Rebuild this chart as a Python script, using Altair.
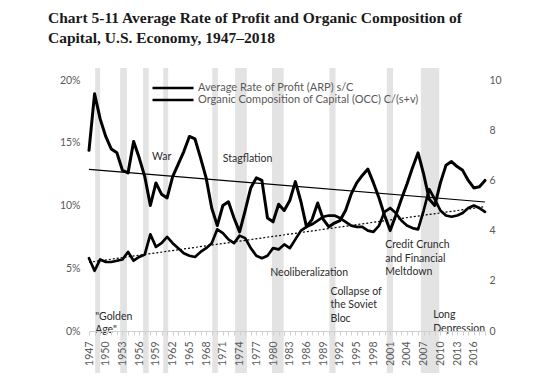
import altair as alt
import pandas as pd

years = list(range(1947, 2019))

arp = [14.4, 18.9, 16.9, 15.5, 14.5, 14.2, 12.8, 12.6, 15.1, 13.8,
       12.3, 10.0, 11.8, 10.9, 10.6, 12.3, 13.3, 14.3, 15.5, 15.3,
       13.8, 12.2, 9.8, 8.4, 10.0, 10.3, 9.0, 7.9, 9.6, 11.4,
       12.2, 12.0, 9.0, 8.7, 10.1, 9.6, 10.4, 11.9, 10.3, 8.3,
       8.9, 10.2, 8.9, 8.3, 8.6, 8.8, 9.6, 10.9, 11.8, 12.4,
       12.9, 11.8, 10.6, 9.2, 8.0, 9.2, 10.5, 11.7, 13.0, 14.2,
       12.5, 10.5, 10.0, 11.8, 13.2, 13.5, 13.1, 12.8, 12.0, 11.4,
       11.5, 12.0]

occ = [2.9, 2.4, 2.85, 2.75, 2.75, 2.8, 2.85, 3.15, 2.8, 2.95,
       3.05, 3.85, 3.35, 3.5, 3.75, 3.5, 3.3, 3.1, 3.0, 2.95,
       3.15, 3.3, 3.5, 4.05, 3.9, 3.65, 3.5, 3.8, 3.7, 3.3,
       3.0, 2.9, 3.0, 3.3, 3.25, 3.45, 3.3, 3.65, 4.0, 4.15,
       4.25, 4.4, 4.55, 4.6, 4.6, 4.5, 4.35, 4.2, 4.15, 4.15,
       4.0, 3.95, 4.2, 4.75, 4.9, 4.7, 4.4, 4.2, 4.1, 4.05,
       4.8, 5.65, 5.25, 4.8, 4.6, 4.55, 4.6, 4.7, 4.9, 5.0,
       4.9, 4.75]

band_start = [1948.1, 1952.6, 1956.7, 1960.3, 1969.1, 1973.2, 1979.8, 1990.1, 2000.4, 2006.5]
band_end = [1949.0, 1953.8, 1957.7, 1961.2, 1970.1, 1975.3, 1981.9, 1991.2, 2001.5, 2009.8]

note_text = ["War", "Stagflation", "Neoliberalization", "Collapse of\nthe Soviet\nBloc",
             "Credit Crunch\nand Financial\nMeltdown", "Long\nDepression", "\"Golden\nAge\""]
note_year = [1958.3, 1971.0, 1979.5, 1990.3, 2000.1, 2008.7, 1948.1]
note_val = [13.6, 13.5, 4.4, 2.9, 6.6, 1.0, 0.9]

ARP_NAME = "Average Rate of Profit (ARP) s/C"
OCC_NAME = "Organic Composition of Capital (OCC) C/(s+v)"

arp_df = pd.DataFrame({"year": years, "arp": arp, "series": ARP_NAME})
occ_df = pd.DataFrame({"year": years, "occ": occ, "series": OCC_NAME})
band_df = pd.DataFrame({"start": band_start, "end": band_end})
note_df = pd.DataFrame({"text": note_text, "year": note_year, "val": note_val})

FONT = "Lato"
GREY = "#595959"

xscale = alt.Scale(domain=[1947, 2018], nice=False, zero=False)
xaxis = alt.Axis(
    title=None, values=years, grid=False,
    labelExpr="(datum.value - 1947) % 3 === 0 ? '' + datum.value : ''",
    labelAngle=270, labelFont=FONT, labelFontSize=10.5, labelColor=GREY,
    labelPadding=6, labelOverlap=False, labelBound=False, labelFlush=False,
    domainColor="#d0d0d0", tickColor="#d0d0d0", tickSize=4, zindex=1,
)
yscale_l = alt.Scale(domain=[0, 20], nice=False, zero=True)
yaxis_l = alt.Axis(
    title=None, values=[0, 5, 10, 15, 20], labelExpr="datum.value + '%'",
    grid=False, domain=False, ticks=False, labelFont=FONT, labelFontSize=10.5,
    labelColor=GREY, labelPadding=9, orient="left",
)
yscale_r = alt.Scale(domain=[0, 10], nice=False, zero=True)
yaxis_r = alt.Axis(
    title=None, values=[0, 2, 4, 6, 8, 10], grid=False, domain=False, ticks=False,
    labelFont=FONT, labelFontSize=10.5, labelColor=GREY, labelPadding=4, orient="right",
)

color = alt.Color(
    "series:N",
    scale=alt.Scale(domain=[ARP_NAME, OCC_NAME], range=["#000000", "#000000"]),
    legend=alt.Legend(
        title=None, orient="none", legendX=62, legendY=2,
        symbolType="stroke", symbolSize=1681, symbolStrokeWidth=2.6,
        clipHeight=12, rowPadding=0, labelOffset=3,
        labelFont=FONT, labelFontSize=11, labelColor=GREY, labelLimit=400,
    ),
)

bands = alt.Chart(band_df).mark_rect(color="#e3e3e3").encode(
    x=alt.X("start:Q", scale=xscale, axis=xaxis),
    x2="end:Q",
    y=alt.value(-12),
    y2=alt.value(293),
)

arp_line = alt.Chart(arp_df).mark_line(strokeWidth=3, strokeJoin="round", strokeCap="round").encode(
    x=alt.X("year:Q", scale=xscale, axis=xaxis),
    y=alt.Y("arp:Q", scale=yscale_l, axis=yaxis_l),
    color=color,
)

arp_trend = alt.Chart(arp_df).transform_regression("year", "arp").mark_line(
    strokeWidth=1.2, color="black"
).encode(
    x=alt.X("year:Q", scale=xscale, axis=xaxis),
    y=alt.Y("arp:Q", scale=yscale_l, axis=yaxis_l),
)

notes = alt.Chart(note_df).mark_text(
    align="left", baseline="alphabetic", lineBreak="\n", lineHeight=13.5,
    font=FONT, fontSize=10.5, color="#2b2b2b",
).encode(
    x=alt.X("year:Q", scale=xscale, axis=xaxis),
    y=alt.Y("val:Q", scale=yscale_l, axis=yaxis_l),
    text="text:N",
)

occ_line = alt.Chart(occ_df).mark_line(strokeWidth=2.7, strokeJoin="round", strokeCap="round").encode(
    x=alt.X("year:Q", scale=xscale, axis=xaxis),
    y=alt.Y("occ:Q", scale=yscale_r, axis=yaxis_r),
    color=color,
)

occ_trend = alt.Chart(occ_df).transform_regression("year", "occ").mark_line(
    strokeWidth=1.2, color="black", strokeDash=[2, 2]
).encode(
    x=alt.X("year:Q", scale=xscale, axis=xaxis),
    y=alt.Y("occ:Q", scale=yscale_r, axis=yaxis_r),
)

left = alt.layer(bands, arp_trend, arp_line, notes)
right = alt.layer(occ_trend, occ_line)

chart = alt.layer(left, right).resolve_scale(y="independent").properties(
    width=396, height=251,
    autosize=alt.AutoSizeParams(type="none"),
    padding={"left": 81, "top": 72, "right": 66, "bottom": 51},
    title=alt.TitleParams(
        text=["Chart 5-11 Average Rate of Profit and Organic Composition of",
              "Capital, U.S. Economy, 1947\u20132018"],
        anchor="start", frame="group", dx=-41, offset=22,
        font="Liberation Serif", fontSize=15.5, fontWeight="bold", color="#1a1a1a",
        lineHeight=20,
    ),
).configure_view(stroke=None)

chart.save("out.html", embed_options={"renderer": "svg", "actions": False})
